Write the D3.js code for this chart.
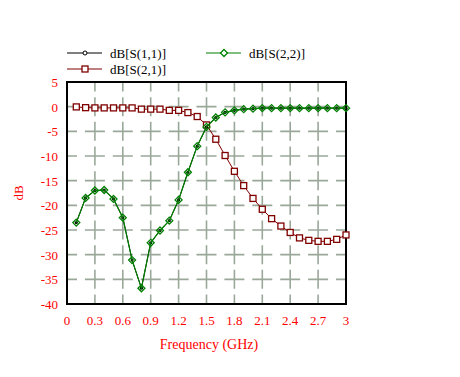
<!DOCTYPE html>
<html><head><meta charset="utf-8">
<script src="https://cdn.jsdelivr.net/npm/d3@7"></script>
<style>body{margin:0;background:#fff}svg{display:block}</style>
</head><body>
<svg id="c" width="460" height="377"></svg>
<script>
const freq = [0.1,0.2,0.3,0.4,0.5,0.6,0.7,0.8,0.9,1.0,1.1,1.2,1.3,1.4,1.5,1.6,1.7,1.8,1.9,2.0,2.1,2.2,2.3,2.4,2.5,2.6,2.7,2.8,2.9,3.0];
const s21 = [-0.05,-0.2,-0.25,-0.25,-0.25,-0.25,-0.25,-0.5,-0.5,-0.5,-0.75,-0.75,-1.2,-2.0,-3.7,-6.6,-9.9,-13.1,-16.0,-18.6,-20.8,-22.7,-24.2,-25.5,-26.6,-27.1,-27.3,-27.3,-26.9,-26.0];
const s22 = [-23.5,-18.5,-17.0,-16.9,-18.7,-22.5,-31.1,-36.8,-27.6,-25.1,-23.1,-18.9,-13.3,-8.0,-4.1,-2.2,-1.15,-0.75,-0.5,-0.4,-0.3,-0.3,-0.3,-0.3,-0.3,-0.3,-0.3,-0.3,-0.3,-0.3];
const s11 = s22.slice();
const xTicks = [0,0.3,0.6,0.9,1.2,1.5,1.8,2.1,2.4,2.7,3];
const yTicks = [5,0,-5,-10,-15,-20,-25,-30,-35,-40];
const seriesNames = ["dB[S(1,1)]","dB[S(2,1)]","dB[S(2,2)]"];

const svg = d3.select("#c");
const x = d3.scaleLinear().domain([0,3]).range([67,346]);
const y = d3.scaleLinear().domain([-40,5]).range([304,82]);
const font = "'Liberation Serif','Times New Roman',serif";
const gridColor = "#9aa89a";

// grid
const g = svg.append("g");
const dx = x(0.3)-x(0), dy = y(0)-y(5);
yTicks.slice(1,-1).forEach(v=>{
  g.append("line").attr("x1",x(0)).attr("x2",x(3)).attr("y1",y(v)).attr("y2",y(v))
   .attr("stroke",gridColor).attr("stroke-width",1.6)
   .attr("stroke-dasharray",`20,${dx-20}`).attr("stroke-dashoffset",10);
});
xTicks.slice(1,-1).forEach(v=>{
  g.append("line").attr("x1",x(v)).attr("x2",x(v)).attr("y1",y(5)).attr("y2",y(-40))
   .attr("stroke",gridColor).attr("stroke-width",1.6)
   .attr("stroke-dasharray",`19,${dy-19}`).attr("stroke-dashoffset",9.5);
});

// frame
svg.append("rect").attr("x",x(0)).attr("y",y(5)).attr("width",x(3)-x(0)).attr("height",y(-40)-y(5))
  .attr("fill","none").attr("stroke","#000").attr("stroke-width",2);

// tick labels
svg.append("g").selectAll("text").data(yTicks).join("text")
  .attr("x",58).attr("y",d=>y(d)+5).attr("text-anchor","end")
  .attr("font-family",font).attr("font-size",13).attr("fill","#ff0000").text(d=>d);
svg.append("g").selectAll("text").data(xTicks).join("text")
  .attr("x",d=>x(d)).attr("y",325).attr("text-anchor","middle")
  .attr("font-family",font).attr("font-size",13).attr("fill","#ff0000").text(d=>d);

svg.append("text").attr("x",209).attr("y",349).attr("text-anchor","middle")
  .attr("font-family",font).attr("font-size",14).attr("fill","#ff0000").text("Frequency (GHz)");
svg.append("text").attr("transform","translate(23,193) rotate(-90)").attr("text-anchor","middle")
  .attr("font-family",font).attr("font-size",13).attr("fill","#ff0000").text("dB");

const line = d3.line().x((d,i)=>x(freq[i])).y(d=>y(d));
const diamond = (cx,cy,r)=>`M${cx},${cy-r}L${cx+r},${cy}L${cx},${cy+r}L${cx-r},${cy}Z`;

function drawS11(sel){
  sel.append("path").attr("d",line(s11)).attr("fill","none").attr("stroke","#000").attr("stroke-width",1);
  sel.selectAll("circle").data(s11).join("circle").attr("cx",(d,i)=>x(freq[i])).attr("cy",d=>y(d))
    .attr("r",1.6).attr("fill","#000");
}
function drawS21(sel){
  sel.append("path").attr("d",line(s21)).attr("fill","none").attr("stroke","#800000").attr("stroke-width",1);
  sel.selectAll("rect").data(s21).join("rect").attr("x",(d,i)=>x(freq[i])-3).attr("y",d=>y(d)-3)
    .attr("width",6).attr("height",6).attr("fill","#fff").attr("stroke","#800000").attr("stroke-width",1.3);
}
function drawS22(sel){
  sel.append("path").attr("d",line(s22)).attr("fill","none").attr("stroke","#008000").attr("stroke-width",1.2);
  sel.selectAll("path.m").data(s22).join("path").attr("class","m")
    .attr("d",(d,i)=>diamond(x(freq[i]),y(d),3.5)).attr("fill","none").attr("stroke","#008000").attr("stroke-width",1.3);
}
drawS21(svg.append("g"));
drawS11(svg.append("g"));
drawS22(svg.append("g"));

// legend
const leg = svg.append("g");
const items = [
  {name:seriesNames[0], x0:67, y0:53, color:"#000", m:"circle"},
  {name:seriesNames[1], x0:67, y0:69, color:"#800000", m:"square"},
  {name:seriesNames[2], x0:206, y0:53, color:"#008000", m:"diamond"}
];
items.forEach(it=>{
  leg.append("line").attr("x1",it.x0).attr("x2",it.x0+35).attr("y1",it.y0).attr("y2",it.y0)
    .attr("stroke",it.color).attr("stroke-width",1.2);
  const cx = it.x0+18;
  if(it.m==="circle") leg.append("circle").attr("cx",cx).attr("cy",it.y0).attr("r",2).attr("fill","#fff").attr("stroke","#000");
  if(it.m==="square") leg.append("rect").attr("x",cx-3).attr("y",it.y0-3).attr("width",6).attr("height",6).attr("fill","#fff").attr("stroke",it.color).attr("stroke-width",1.3);
  if(it.m==="diamond") leg.append("path").attr("d",diamond(cx,it.y0,3.5)).attr("fill","#fff").attr("stroke",it.color).attr("stroke-width",1.3);
  leg.append("text").attr("x",it.x0+43).attr("y",it.y0+5).attr("font-family",font).attr("font-size",13)
    .attr("fill","#000").text(it.name);
});
</script>
</body></html>
